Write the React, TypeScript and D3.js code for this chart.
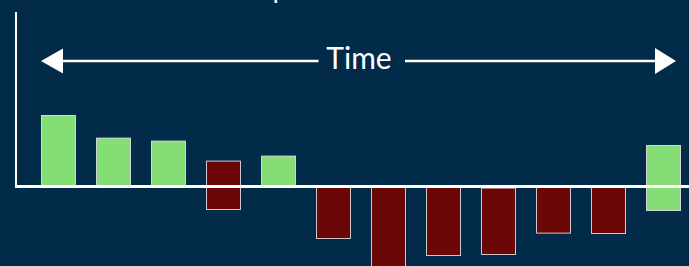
import React from "react";
import * as d3 from "d3";

// one bar per period: flow start / end (bars float when start != 0)
const periods = ["P1", "P2", "P3", "P4", "P5", "P6", "P7", "P8", "P9", "P10", "P11", "P12"];
const lows = [0, 0, 0, -11.5, 0, -26, -41, -34.5, -0.8, -23.3, -23.5, -12];
const highs = [35.5, 24.2, 22.7, 12.7, 15.2, 0, 0, 0, -34, 0, 0, 20.5];
const kinds = ["in", "in", "in", "out", "in", "out", "out", "out", "out", "out", "out", "in"];

const title = "Cash position";
const axisLabel = "Time";

const W = 689;
const H = 266;
const BG = "#022b4a";
const GREEN = "#85dd75";
const RED = "#6b0707";

const App: React.FC = () => {
  const x = d3.scaleBand<string>()
    .domain(periods)
    .range([31, 31 + 55 * periods.length])
    .paddingInner(20 / 55)
    .paddingOuter(10 / 55);
  const y = d3.scaleLinear().domain([-39.75, 93.25]).range([H, 0]);

  const bw = x.bandwidth();
  const y0 = y(0);
  const left = x(periods[0])!;
  const right = x(periods[periods.length - 1])! + bw - 5;
  const arrowY = 61;

  return (
    <div style={{ position: "fixed", left: 0, top: 0 }}>
      <svg width={W} height={H} style={{ display: "block", background: BG }}>
        <text x={210} y={-2} fill="#fff" fontFamily="Lato" fontSize={26}>{title}</text>

        {/* time arrow */}
        <line x1={left + 22} x2={318.5} y1={arrowY} y2={arrowY} stroke="#fff" strokeWidth={2.5} />
        <line x1={405} x2={right - 21} y1={arrowY} y2={arrowY} stroke="#fff" strokeWidth={2.5} />
        <path d={`M${left},${arrowY}L${left + 22},${arrowY - 12.5}L${left + 22},${arrowY + 12.5}Z`} fill="#fff" />
        <path d={`M${right},${arrowY}L${right - 21},${arrowY - 13}L${right - 21},${arrowY + 13}Z`} fill="#fff" />
        <text x={359} y={69} textAnchor="middle" fill="#fff" fontFamily="Lato" fontSize={30}>{axisLabel}</text>

        {periods.map((p, i) => {
          const top = y(Math.max(lows[i], highs[i]));
          const bot = y(Math.min(lows[i], highs[i]));
          return (
            <rect key={p} x={x(p)! + 0.5} y={top} width={bw - 1} height={bot - top}
              fill={kinds[i] === "in" ? GREEN : RED}
              stroke="#e6e6e6" strokeOpacity={0.85} strokeWidth={1} />
          );
        })}

        {/* axes */}
        <line x1={16} x2={16} y1={12} y2={y0} stroke="#fff" strokeWidth={2} />
        <line x1={15} x2={W} y1={y0} y2={y0} stroke="#fff" strokeWidth={3} />
      </svg>
    </div>
  );
};

export default App;
